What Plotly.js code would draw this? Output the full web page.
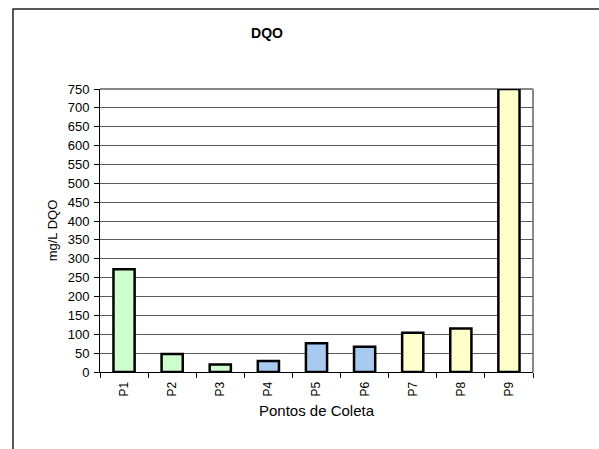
<!DOCTYPE html>
<html>
<head>
<meta charset="utf-8">
<script src="https://cdn.plot.ly/plotly-3.0.1.min.js"></script>
<style>
  html, body { margin: 0; padding: 0; background: #fff; }
  #chart { width: 599px; height: 449px; }
</style>
</head>
<body>
<div id="chart"></div>
<script>
// Sampling points and measured COD (mg/L)
const pontos = ['P1', 'P2', 'P3', 'P4', 'P5', 'P6', 'P7', 'P8', 'P9'];
const dqo = [272, 48, 20, 29, 76, 67, 104, 115, 750];
// Fill per point: green group, blue group, yellow group
const cores = ['#CCFFCC', '#CCFFCC', '#CCFFCC', '#A6CAF0', '#A6CAF0', '#A6CAF0', '#FFFFCC', '#FFFFCC', '#FFFFCC'];
const yTicks = [0, 50, 100, 150, 200, 250, 300, 350, 400, 450, 500, 550, 600, 650, 700, 750];

const font = 'Liberation Sans, Arial, sans-serif';

const trace = {
  type: 'bar',
  x: pontos,
  y: dqo,
  marker: { color: cores, line: { color: '#000', width: 2.5 } },
  hoverinfo: 'x+y'
};

const layout = {
  width: 599,
  height: 449,
  margin: { l: 100, r: 66, t: 89, b: 77 },
  paper_bgcolor: '#fff',
  plot_bgcolor: '#fff',
  showlegend: false,
  bargap: 0.56,
  font: { family: font, color: '#000' },
  title: {
    text: '<b>DQO</b>',
    font: { family: font, size: 14, color: '#000' },
    xref: 'container', yref: 'container',
    x: 267 / 599, y: 1 - 33 / 449,
    xanchor: 'center', yanchor: 'middle'
  },
  xaxis: {
    type: 'category',
    showline: true, linecolor: '#000', linewidth: 1,
    ticks: 'outside', tickson: 'boundaries', ticklen: 5, tickcolor: '#000',
    tickangle: -90,
    ticklabelstandoff: 4,
    tickfont: { family: font, size: 12, color: '#000' },
    showgrid: false,
    title: { text: 'Pontos de Coleta', font: { family: font, size: 15, color: '#000' }, standoff: 10 },
    automargin: false
  },
  yaxis: {
    range: [0, 750],
    tickvals: yTicks,
    showline: true, linecolor: '#000', linewidth: 1,
    ticks: 'outside', ticklen: 5, tickcolor: '#000',
    ticklabelstandoff: 2,
    tickfont: { family: font, size: 13, color: '#000' },
    showgrid: true, gridcolor: '#5a5a5a', gridwidth: 1,
    zeroline: false,
    title: { text: 'mg/L DQO', font: { family: font, size: 13, color: '#000' }, standoff: 7 },
    automargin: false
  },
  shapes: [
    // plot area border (top and right)
    { type: 'line', xref: 'paper', yref: 'paper', x0: 0, x1: 1, y0: 1, y1: 1,
      line: { color: '#888', width: 2 }, layer: 'below' },
    { type: 'line', xref: 'paper', yref: 'paper', x0: 1, x1: 1, y0: 0, y1: 1,
      line: { color: '#888', width: 2 }, layer: 'below' },
    // chart frame
    { type: 'rect', xref: 'paper', yref: 'paper',
      x0: (13 - 100) / 433, x1: 2, y0: -1, y1: (372 - 9) / 283,
      line: { color: '#222', width: 1.5 }, fillcolor: 'rgba(0,0,0,0)' }
  ]
};

Plotly.newPlot('chart', [trace], layout, { displayModeBar: false, staticPlot: true });
</script>
</body>
</html>
